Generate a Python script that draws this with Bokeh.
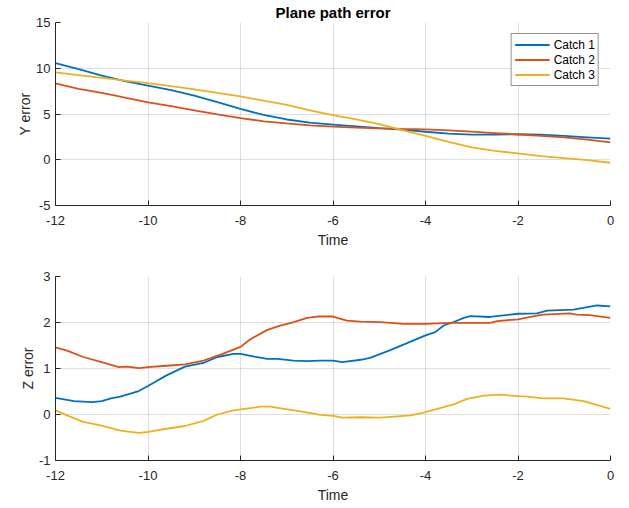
from bokeh.plotting import figure
from bokeh.layouts import column
from bokeh.models import Range1d, FixedTicker, Legend, LegendItem
from bokeh.embed import file_html
from bokeh.resources import INLINE

# ---------------- data ----------------
t_y = [-12, -11.5, -11, -10.7, -10.5, -10, -9.5, -9, -8.5, -8, -7.5, -7, -6.5, -6,
       -5.5, -5, -4.5, -4, -3.5, -3, -2.5, -2, -1.5, -1, -0.5, 0]
y_catch1 = [10.57, 9.9, 9.2, 8.85, 8.6, 8.1, 7.6, 7.0, 6.3, 5.55, 4.9, 4.4, 4.05, 3.85,
            3.65, 3.45, 3.3, 3.06, 2.85, 2.75, 2.75, 2.8, 2.75, 2.6, 2.45, 2.3]
y_catch2 = [8.34, 7.75, 7.3, 7.0, 6.8, 6.26, 5.85, 5.4, 4.95, 4.56, 4.2, 3.97, 3.75, 3.62,
            3.5, 3.42, 3.37, 3.33, 3.22, 3.08, 2.92, 2.76, 2.62, 2.45, 2.2, 1.9]
y_catch3 = [9.54, 9.25, 8.95, 8.78, 8.65, 8.38, 8.05, 7.7, 7.3, 6.92, 6.45, 6.0, 5.4, 4.88,
            4.4, 3.9, 3.25, 2.62, 1.95, 1.35, 0.98, 0.69, 0.4, 0.18, -0.05, -0.33]

t_z1 = [-12, -11.6, -11.2, -11.0, -10.8, -10.6, -10.2, -10, -9.6, -9.2, -8.8, -8.5, -8.15,
        -8, -7.7, -7.42, -7.2, -6.85, -6.56, -6.3, -6, -5.8, -5.4, -5.2, -4.76, -4.4, -4,
        -3.79, -3.6, -3.39, -3.17, -3.03, -2.6, -2.17, -2, -1.59, -1.37, -0.8, -0.29, 0]
z_catch1 = [0.36, 0.29, 0.27, 0.29, 0.35, 0.39, 0.51, 0.62, 0.85, 1.04, 1.12, 1.25, 1.32,
            1.32, 1.26, 1.21, 1.21, 1.17, 1.16, 1.17, 1.17, 1.14, 1.19, 1.23, 1.40, 1.55, 1.72,
            1.79, 1.94, 2.01, 2.10, 2.14, 2.12, 2.17, 2.19, 2.20, 2.26, 2.28, 2.37, 2.35]

t_z2 = [-12, -11.75, -11.4, -11.0, -10.63, -10.45, -10.2, -10, -9.6, -9.2, -8.8, -8.43, -8,
        -7.78, -7.42, -7.14, -6.85, -6.56, -6.34, -6, -5.7, -5.4, -4.97, -4.47, -4, -3.46,
        -2.6, -2.45, -2, -1.73, -1.45, -0.88, -0.73, -0.45, 0]
z_catch2 = [1.46, 1.39, 1.25, 1.14, 1.03, 1.04, 1.01, 1.03, 1.06, 1.09, 1.17, 1.30, 1.47,
            1.64, 1.84, 1.93, 2.01, 2.10, 2.13, 2.13, 2.04, 2.02, 2.01, 1.97, 1.97, 1.99,
            1.99, 2.03, 2.07, 2.12, 2.17, 2.20, 2.17, 2.16, 2.10]

t_z3 = [-12, -11.75, -11.4, -11.0, -10.6, -10.2, -10, -9.6, -9.2, -8.8, -8.5, -8.15, -8,
        -7.57, -7.35, -7.06, -6.7, -6.27, -6, -5.8, -5.4, -4.97, -4.32, -4, -3.75, -3.39,
        -3.1, -2.74, -2.38, -2, -1.8, -1.45, -1.02, -0.58, 0]
z_catch3 = [0.09, -0.02, -0.16, -0.24, -0.35, -0.40, -0.38, -0.31, -0.25, -0.14, 0.0, 0.09,
            0.11, 0.17, 0.17, 0.12, 0.07, -0.01, -0.03, -0.07, -0.06, -0.07, -0.02, 0.05, 0.12,
            0.22, 0.34, 0.41, 0.43, 0.40, 0.39, 0.35, 0.35, 0.29, 0.12]

x_ticks = [-12, -10, -8, -6, -4, -2, 0]
y_ticks_top = [-5, 0, 5, 10, 15]
y_ticks_bot = [-1, 0, 1, 2, 3]
series_names = ["Catch 1", "Catch 2", "Catch 3"]
colors = ["#0072BD", "#D95319", "#EDB120"]
title_text = "Plane path error"

FONT = "Liberation Sans"
DARK = "#262626"


def style(p, yticks, ylabel):
    p.outline_line_color = None
    p.background_fill_color = "white"
    p.border_fill_color = "white"
    for ax in (p.xaxis[0], p.yaxis[0]):
        ax.axis_line_color = DARK
        ax.axis_line_width = 1
        ax.major_tick_line_color = DARK
        ax.major_tick_in = 5
        ax.major_tick_out = 0
        ax.minor_tick_line_color = None
        ax.major_label_text_font = FONT
        ax.major_label_text_font_size = "13px"
        ax.major_label_text_color = DARK
        ax.axis_label_text_font = FONT
        ax.axis_label_text_font_size = "14px"
        ax.axis_label_text_font_style = "normal"
        ax.axis_label_text_color = DARK
    p.xaxis[0].ticker = FixedTicker(ticks=x_ticks)
    p.xaxis[0].major_label_overrides = {v: str(v) for v in x_ticks}
    p.xaxis[0].major_label_standoff = 10
    p.xaxis[0].axis_label = "Time"
    p.xaxis[0].axis_label_standoff = 4
    p.yaxis[0].ticker = FixedTicker(ticks=yticks)
    p.yaxis[0].major_label_overrides = {v: str(v) for v in yticks}
    p.yaxis[0].major_label_standoff = 5
    p.yaxis[0].axis_label = ylabel
    p.yaxis[0].axis_label_standoff = 0
    for g in (p.xgrid[0], p.ygrid[0]):
        g.grid_line_color = DARK
        g.grid_line_alpha = 0.15
        g.grid_line_width = 1
    p.xgrid[0].ticker = FixedTicker(ticks=x_ticks)
    p.ygrid[0].ticker = FixedTicker(ticks=yticks)


p1 = figure(width=629, height=250, output_backend="svg", toolbar_location=None,
            x_range=Range1d(-12, 0), y_range=Range1d(-5, 15),
            min_border_left=55, min_border_right=19, min_border_top=22, min_border_bottom=45)
p1.title.text = title_text
p1.title.align = "center"
p1.title.text_font = FONT
p1.title.text_font_size = "15px"
p1.title.text_font_style = "bold"
p1.title.text_color = "black"
p1.title.standoff = 3
style(p1, y_ticks_top, "Y error")

r1 = p1.line(t_y, y_catch1, line_color=colors[0], line_width=1.8)
r2 = p1.line(t_y, y_catch2, line_color=colors[1], line_width=1.8)
r3 = p1.line(t_y, y_catch3, line_color=colors[2], line_width=1.8)

legend = Legend(items=[LegendItem(label=series_names[0], renderers=[r1]),
                       LegendItem(label=series_names[1], renderers=[r2]),
                       LegendItem(label=series_names[2], renderers=[r3])],
                location="top_right", margin=11, padding=3, spacing=0,
                label_standoff=4, glyph_width=35, glyph_height=15, label_height=15,
                label_text_font=FONT, label_text_font_size="12px", label_text_color="black",
                border_line_color=DARK, border_line_width=1, background_fill_color="white",
                background_fill_alpha=1.0)
p1.add_layout(legend)

p2 = figure(width=629, height=258, output_backend="svg", toolbar_location=None,
            x_range=Range1d(-12, 0), y_range=Range1d(-1, 3),
            min_border_left=55, min_border_right=19, min_border_top=26, min_border_bottom=48)
style(p2, y_ticks_bot, "Z error")
p2.line(t_z1, z_catch1, line_color=colors[0], line_width=1.8)
p2.line(t_z2, z_catch2, line_color=colors[1], line_width=1.8)
p2.line(t_z3, z_catch3, line_color=colors[2], line_width=1.8)

layout = column(p1, p2, spacing=0)
open("out.html", "w").write(file_html(layout, INLINE))
